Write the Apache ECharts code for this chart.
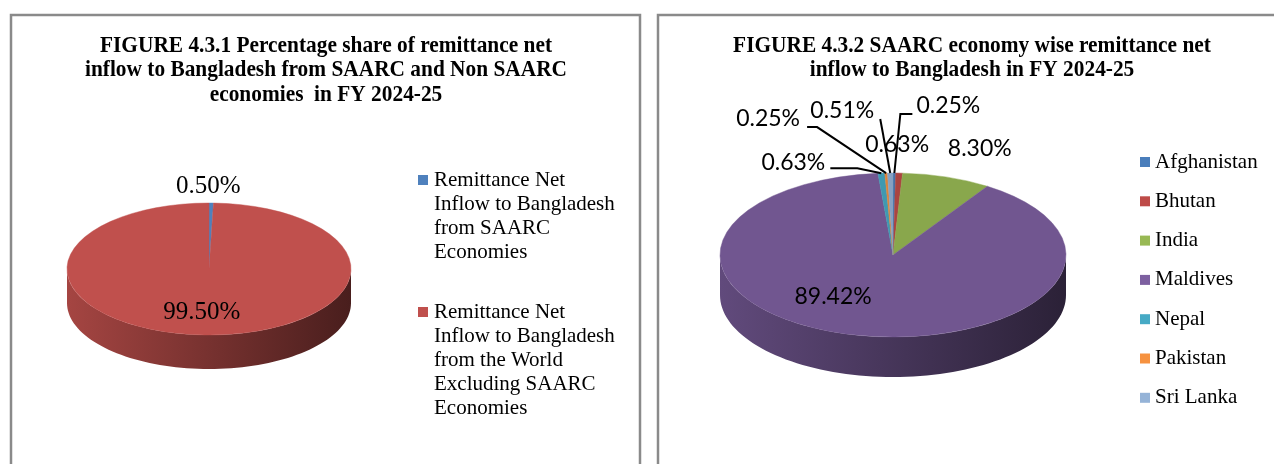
<!DOCTYPE html>
<html lang="en">
<head>
<meta charset="UTF-8">
<title>Remittance net inflow - SAARC</title>
<script src="https://cdn.jsdelivr.net/npm/echarts@6/dist/echarts.min.js"></script>
</head>
<body style="margin:0;background:#fff;">
<div id="main" style="width:1274px;height:464px;"></div>
<script>
// FIGURE 4.3.1 - SAARC vs non SAARC share (%)
var shareNames = ['Remittance Net Inflow to Bangladesh from SAARC Economies',
                  'Remittance Net Inflow to Bangladesh from the World Excluding SAARC Economies'];
var shareValues = [0.50, 99.50];
var shareColors = ['#4f81bd', '#c0504d'];

// FIGURE 4.3.2 - SAARC economy wise share (%)
var countryNames = ['Afghanistan', 'Bhutan', 'India', 'Maldives', 'Nepal', 'Pakistan', 'Sri Lanka'];
var countryValues = [0.25, 0.63, 8.30, 89.42, 0.63, 0.25, 0.51];
var countryColors = ['#4a7ebb', '#be4b48', '#98b954', '#7d60a0', '#46aac5', '#f69240', '#95b3d7'];

var titles = [
    'FIGURE 4.3.1 Percentage share of remittance net\ninflow to Bangladesh from SAARC and Non SAARC\neconomies  in FY 2024-25',
    'FIGURE 4.3.2 SAARC economy wise remittance net\ninflow to Bangladesh in FY 2024-25'
];

// pie geometry (ellipse = tilted disc) and label placement, relative to slice rim point
var pieLeft = {
    cx: 209, cy: 269, rx: 142, ry: 66, depth: 34, shade: 1,
    font: '25px "Liberation Serif"',
    labels: [{ dx: -3, dy: -17 }, { dx: -5, dy: -23 }]
};
var pieRight = {
    cx: 893, cy: 255, rx: 173, ry: 82, depth: 40, shade: 0.9,
    font: '23px Lato',
    labels: [
        { dx: 54, dy: -67, line: [[6, -59], [18, -59]] },
        { dx: -2, dy: -28 },
        { dx: 33, dy: -28 },
        { dx: -18, dy: -38 },
        { dx: -88, dy: -11, line: [[-24, -5], [-51, -5]] },
        { dx: -118, dy: -54, line: [[-69, -46], [-79, -46]] },
        { dx: -48, dy: -62, line: [[-10, -54]] }
    ]
};

function scaleColor(hex, f) {
    var c = echarts.color.parse(hex);
    return 'rgb(' + Math.round(c[0] * f) + ',' + Math.round(c[1] * f) + ',' + Math.round(c[2] * f) + ')';
}

function drawSlice(pie, i, a0, a1, value, color) {
    var top = scaleColor(color, pie.shade);
    var children = [];
    // side wall, only the front half of the disc is visible
    [[0, Math.PI], [2 * Math.PI, 3 * Math.PI]].forEach(function (seg) {
        var t0 = Math.max(a0, seg[0]), t1 = Math.min(a1, seg[1]);
        if (t1 <= t0) return;
        var pts = [], n = 80, j, t;
        for (j = 0; j <= n; j++) {
            t = t0 + (t1 - t0) * j / n;
            pts.push([pie.cx + pie.rx * Math.cos(t), pie.cy + pie.ry * Math.sin(t)]);
        }
        for (j = n; j >= 0; j--) {
            t = t0 + (t1 - t0) * j / n;
            pts.push([pie.cx + pie.rx * Math.cos(t), pie.cy + pie.depth + pie.ry * Math.sin(t)]);
        }
        children.push({
            type: 'polygon', z2: 1,
            shape: { points: pts },
            style: {
                fill: new echarts.graphic.LinearGradient(pie.cx - pie.rx, 0, pie.cx + pie.rx, 0, [
                    { offset: 0, color: scaleColor(top, 0.86) },
                    { offset: 1, color: scaleColor(top, 0.38) }
                ], true)
            }
        });
    });
    // top face
    children.push({
        type: 'sector', z2: 5,
        shape: { cx: pie.cx, cy: pie.cy, r: pie.rx, r0: 0, startAngle: a0, endAngle: a1, clockwise: true },
        scaleY: pie.ry / pie.rx, originX: pie.cx, originY: pie.cy,
        style: { fill: top, stroke: top, lineWidth: 0.6 }
    });
    // data label
    var m = (a0 + a1) / 2;
    var ax = pie.cx + pie.rx * Math.cos(m), ay = pie.cy + pie.ry * Math.sin(m);
    var lab = pie.labels[i];
    if (lab.line) {
        var pts = [[ax, ay]].concat(lab.line.map(function (p) { return [ax + p[0], ay + p[1]]; }));
        children.push({
            type: 'polyline', z2: 8,
            shape: { points: pts },
            style: { stroke: '#000', lineWidth: 2, fill: null }
        });
    }
    children.push({
        type: 'text', z2: 10,
        x: ax + lab.dx, y: ay + lab.dy,
        style: { text: value.toFixed(2) + '%', font: pie.font, fill: '#000', align: 'center', verticalAlign: 'middle' }
    });
    return { type: 'group', children: children };
}

function pieSeries(pie, names, values, colors) {
    var total = values.reduce(function (a, b) { return a + b; }, 0);
    var acc = 0;
    return values.map(function (v, i) {
        var a0 = acc / total * 2 * Math.PI - Math.PI / 2;
        acc += v;
        var a1 = acc / total * 2 * Math.PI - Math.PI / 2;
        return {
            type: 'custom',
            name: names[i],
            coordinateSystem: 'none',
            itemStyle: { color: colors[i] },
            data: [v],
            silent: true,
            renderItem: function (params, api) {
                return drawSlice(pie, i, a0, a1, api.value(0), colors[i]);
            }
        };
    });
}

// titles: slightly narrow bold serif as in the source
var titleCenters = [326, 972];
var titleGraphics = titles.map(function (t, i) {
    return {
        type: 'text', x: titleCenters[i], y: 33.5, scaleX: 0.89,
        style: { text: t, font: 'bold 24px "Liberation Serif"', lineHeight: 24.5, fill: '#000', align: 'center', verticalAlign: 'top' }
    };
});

// left legend drawn by hand since the labels wrap over several lines
var legendTops = [168, 300];
var leftLegend = [];
shareNames.forEach(function (name, i) {
    leftLegend.push({ type: 'rect', left: 418, top: legendTops[i] + 7, shape: { width: 10, height: 10 }, style: { fill: shareColors[i] } });
    leftLegend.push({
        type: 'text', left: 434, top: legendTops[i],
        style: { text: name, width: 192, overflow: 'break', font: '21px "Liberation Serif"', lineHeight: 24, fill: '#000' }
    });
});

var myChart = echarts.init(document.getElementById('main'));
var option = {
    backgroundColor: '#fff',
    animation: false,
    legend: {
        data: countryNames,
        orient: 'vertical',
        left: 1140, top: 150,
        padding: 0,
        icon: 'rect',
        itemWidth: 10, itemHeight: 10,
        itemGap: 15.3,
        selectedMode: false,
        textStyle: { fontFamily: 'Liberation Serif', fontSize: 21, lineHeight: 24, color: '#000' }
    },
    graphic: [
        { type: 'rect', shape: { x: 11, y: 15, width: 629, height: 480 }, style: { fill: null, stroke: '#8a8a8a', lineWidth: 2.5 } },
        { type: 'rect', shape: { x: 658, y: 15, width: 640, height: 480 }, style: { fill: null, stroke: '#8a8a8a', lineWidth: 2.5 } }
    ].concat(titleGraphics, leftLegend),
    series: pieSeries(pieLeft, shareNames, shareValues, shareColors)
        .concat(pieSeries(pieRight, countryNames, countryValues, countryColors))
};
myChart.setOption(option);
</script>
</body>
</html>
